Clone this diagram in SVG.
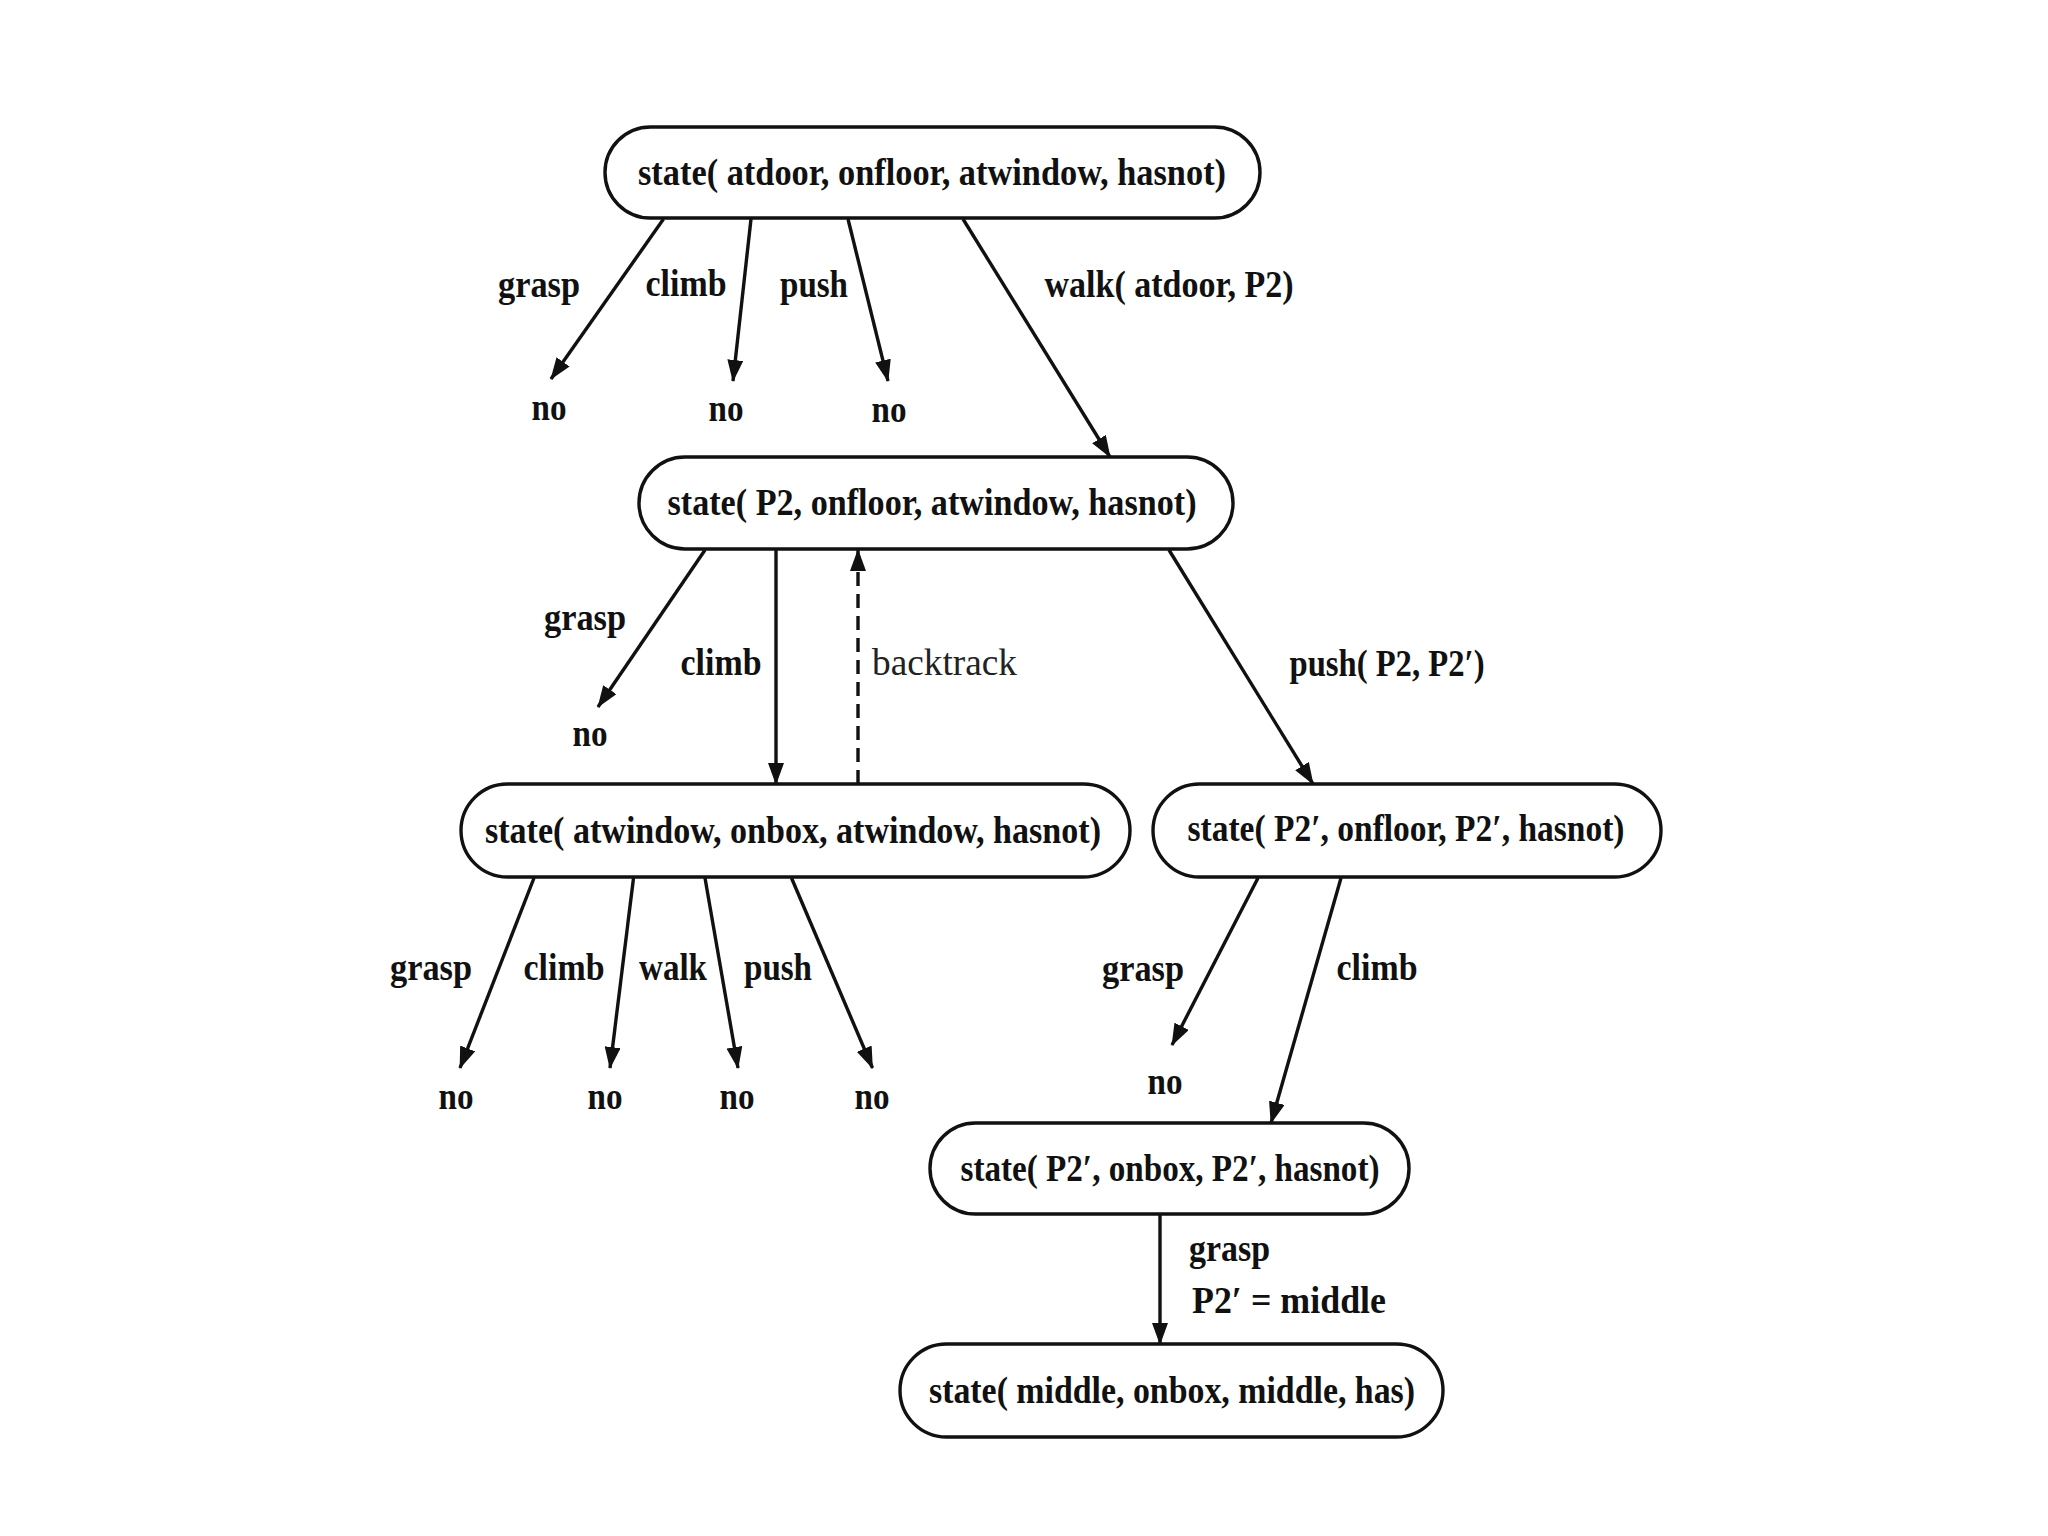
<svg xmlns="http://www.w3.org/2000/svg" width="2048" height="1536" viewBox="0 0 2048 1536">
<style>
.node rect{fill:#fff;stroke:#111;stroke-width:3.4}
.nt{font-family:"Liberation Serif","Times New Roman",serif;font-weight:bold;font-size:38px;fill:#111;text-anchor:middle}
.lb{font-family:"Liberation Serif","Times New Roman",serif;font-weight:bold;font-size:37px;fill:#111;text-anchor:middle}
.lbs{font-family:"Liberation Serif","Times New Roman",serif;font-weight:bold;font-size:37px;fill:#111;text-anchor:start}
.bt{font-family:"Liberation Serif","Times New Roman",serif;font-weight:normal;font-size:37px;fill:#222;text-anchor:start}
.e{stroke:#111;stroke-width:3.4;fill:none;marker-end:url(#ah)}
.d{stroke:#111;stroke-width:3.4;fill:none;stroke-dasharray:14 8;marker-end:url(#ah)}
</style>
<defs>
<marker id="ah" markerUnits="userSpaceOnUse" markerWidth="22" markerHeight="16" refX="21" refY="8" orient="auto">
<path d="M0,0 L22,8 L0,16 z" fill="#111"/>
</marker>
</defs>
<rect width="2048" height="1536" fill="#fff"/>
<g id="connectors">
<line class="e" x1="663.5" y1="219" x2="551" y2="379"/>
<line class="e" x1="751" y1="219" x2="733" y2="381"/>
<line class="e" x1="848" y1="219" x2="888" y2="381"/>
<line class="e" x1="963" y1="219" x2="1110" y2="457"/>
<line class="e" x1="705" y1="550" x2="598" y2="707"/>
<line class="e" x1="776" y1="550" x2="776" y2="784"/>
<line class="d" x1="858" y1="784" x2="858" y2="550"/>
<line class="e" x1="1169" y1="550" x2="1313" y2="784"/>
<line class="e" x1="534" y1="878" x2="460" y2="1068"/>
<line class="e" x1="633.5" y1="878" x2="610" y2="1068"/>
<line class="e" x1="705" y1="878" x2="738" y2="1068"/>
<line class="e" x1="791.5" y1="878" x2="872.5" y2="1068"/>
<line class="e" x1="1258" y1="878" x2="1172" y2="1045"/>
<line class="e" x1="1341" y1="878" x2="1271" y2="1123"/>
<line class="e" x1="1160" y1="1215" x2="1160" y2="1344"/>
</g>
<g id="edge-labels">
<text class="lb" x="539" y="297" textLength="82" lengthAdjust="spacingAndGlyphs">grasp</text>
<text class="lb" x="686" y="296" textLength="81" lengthAdjust="spacingAndGlyphs">climb</text>
<text class="lb" x="814" y="297" textLength="68" lengthAdjust="spacingAndGlyphs">push</text>
<text class="lb" x="1169" y="297" textLength="249" lengthAdjust="spacingAndGlyphs">walk( atdoor, P2)</text>
<text class="lb" x="549" y="420" textLength="35" lengthAdjust="spacingAndGlyphs">no</text>
<text class="lb" x="726" y="421" textLength="35" lengthAdjust="spacingAndGlyphs">no</text>
<text class="lb" x="889" y="422" textLength="35" lengthAdjust="spacingAndGlyphs">no</text>
<text class="lb" x="585" y="630" textLength="82" lengthAdjust="spacingAndGlyphs">grasp</text>
<text class="lb" x="590" y="746" textLength="35" lengthAdjust="spacingAndGlyphs">no</text>
<text class="lb" x="721" y="675" textLength="81" lengthAdjust="spacingAndGlyphs">climb</text>
<text class="bt" x="872" y="675" textLength="145" lengthAdjust="spacingAndGlyphs">backtrack</text>
<text class="lb" x="1387" y="676" textLength="195" lengthAdjust="spacingAndGlyphs">push( P2, P2′)</text>
<text class="lb" x="431" y="980" textLength="82" lengthAdjust="spacingAndGlyphs">grasp</text>
<text class="lb" x="564" y="980" textLength="81" lengthAdjust="spacingAndGlyphs">climb</text>
<text class="lb" x="673" y="980" textLength="68" lengthAdjust="spacingAndGlyphs">walk</text>
<text class="lb" x="778" y="980" textLength="68" lengthAdjust="spacingAndGlyphs">push</text>
<text class="lb" x="456" y="1109" textLength="35" lengthAdjust="spacingAndGlyphs">no</text>
<text class="lb" x="605" y="1109" textLength="35" lengthAdjust="spacingAndGlyphs">no</text>
<text class="lb" x="737" y="1109" textLength="35" lengthAdjust="spacingAndGlyphs">no</text>
<text class="lb" x="872" y="1109" textLength="35" lengthAdjust="spacingAndGlyphs">no</text>
<text class="lb" x="1143" y="981" textLength="82" lengthAdjust="spacingAndGlyphs">grasp</text>
<text class="lb" x="1165" y="1094" textLength="35" lengthAdjust="spacingAndGlyphs">no</text>
<text class="lb" x="1377" y="980" textLength="81" lengthAdjust="spacingAndGlyphs">climb</text>
<text class="lbs" x="1189" y="1261" textLength="81" lengthAdjust="spacingAndGlyphs">grasp</text>
<text class="lbs" x="1192" y="1313" textLength="194" lengthAdjust="spacingAndGlyphs">P2′ = middle</text>
</g>
<g id="n1" class="node">
<rect x="605" y="127" width="655" height="91" rx="45.5"/>
<text class="nt" x="932" y="185" textLength="588" lengthAdjust="spacingAndGlyphs">state( atdoor, onfloor, atwindow, hasnot)</text>
</g>
<g id="n2" class="node">
<rect x="639" y="457" width="594" height="92" rx="46"/>
<text class="nt" x="932" y="515" textLength="529" lengthAdjust="spacingAndGlyphs">state( P2, onfloor, atwindow, hasnot)</text>
</g>
<g id="n3" class="node">
<rect x="461" y="784" width="669" height="93" rx="46.5"/>
<text class="nt" x="793" y="843" textLength="616" lengthAdjust="spacingAndGlyphs">state( atwindow, onbox, atwindow, hasnot)</text>
</g>
<g id="n4" class="node">
<rect x="1153" y="784" width="508" height="93" rx="46.5"/>
<text class="nt" x="1406" y="841" textLength="437" lengthAdjust="spacingAndGlyphs">state( P2′, onfloor, P2′, hasnot)</text>
</g>
<g id="n5" class="node">
<rect x="930" y="1123" width="479" height="91" rx="45.5"/>
<text class="nt" x="1170" y="1181" textLength="419" lengthAdjust="spacingAndGlyphs">state( P2′, onbox, P2′, hasnot)</text>
</g>
<g id="n6" class="node">
<rect x="900" y="1344" width="543" height="93" rx="46.5"/>
<text class="nt" x="1172" y="1403" textLength="486" lengthAdjust="spacingAndGlyphs">state( middle, onbox, middle, has)</text>
</g>
</svg>
